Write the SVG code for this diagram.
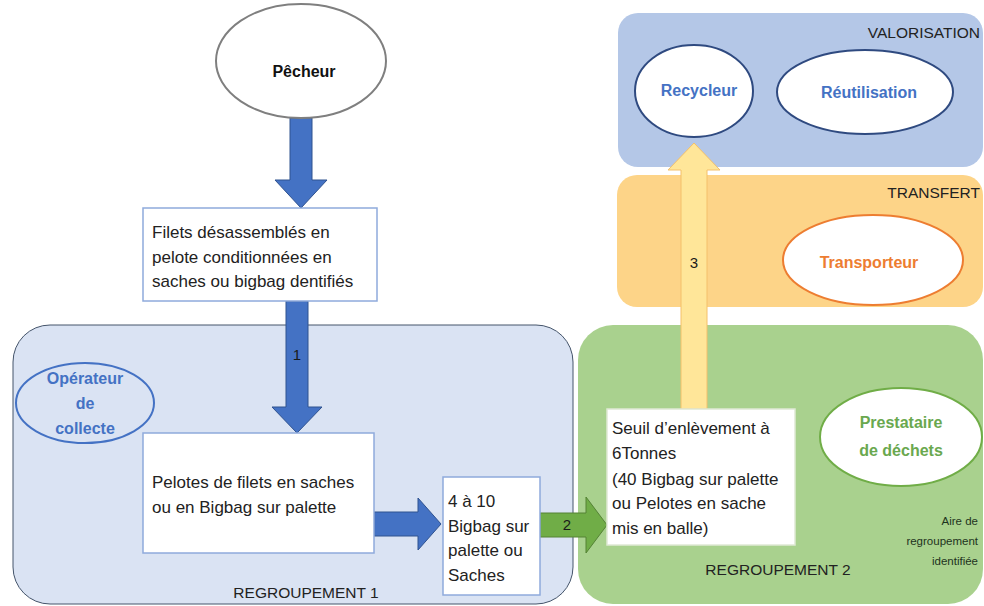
<svg xmlns="http://www.w3.org/2000/svg" width="984" height="606" viewBox="0 0 984 606">
<style>
text{font-family:"Liberation Sans",Arial,sans-serif;fill:#222}
.box{fill:#fff;stroke:#8faadc;stroke-width:1.5}
.bt{font-size:17px}
.rl{font-size:15.5px}
.el{font-size:16px;font-weight:bold;text-anchor:middle}
.blue{fill:#4472c4;stroke:#2f528f;stroke-width:1}
.num{font-size:15px;text-anchor:middle;fill:#1a1a1a}
.aire{font-size:11.5px;text-anchor:end;fill:#1e3320}
</style>
<rect width="984" height="606" fill="#fff"/>
<g id="region-regroupement1">
<rect x="13" y="325" width="560" height="279" rx="37" fill="#dae3f3" stroke="#44546a" stroke-width="1"/>
<text class="rl" x="306" y="598" text-anchor="middle">REGROUPEMENT 1</text>
</g>
<g id="region-regroupement2">
<rect x="578" y="325" width="405" height="279" rx="35" fill="#a9d18e"/>
<text class="rl" x="778" y="575" text-anchor="middle">REGROUPEMENT 2</text>
<text class="aire" x="978" y="525">Aire de</text>
<text class="aire" x="978" y="545">regroupement</text>
<text class="aire" x="978" y="565">identifiée</text>
</g>
<g id="region-valorisation">
<rect x="618" y="13" width="365" height="154" rx="20" fill="#b4c7e7"/>
<text class="rl" x="980" y="38" text-anchor="end">VALORISATION</text>
</g>
<g id="region-transfert">
<rect x="617" y="175" width="366" height="132" rx="20" fill="#fdd488"/>
<text class="rl" x="980" y="198" text-anchor="end">TRANSFERT</text>
</g>
<g id="connectors">
<path class="blue" d="M290,118 H312 V180 H327 L301,208 L275,180 H290 Z"/>
<path class="blue" d="M286,301 H308 V407 H322 L297,433 L272,407 H286 Z"/>
<text class="num" x="297" y="360">1</text>
<path class="blue" d="M374,512 H418 V498 L441,524 L418,550 V536 H374 Z"/>
<path d="M540,513 H586 V497 L607,525 L586,553 V537 H540 Z" fill="#70ad47" stroke="#548235" stroke-width="1"/>
<text class="num" x="567" y="530">2</text>
<path d="M681,409 V170 H668 L694,143 L720,170 H707 V409 Z" fill="#ffe699" stroke="#f4c06a" stroke-width="1"/>
<text class="num" x="694" y="268">3</text>
</g>
<g id="pecheur">
<ellipse cx="301" cy="61" rx="85" ry="57" fill="#fff" stroke="#7f7f7f" stroke-width="2"/>
<text class="el" x="304" y="77" style="fill:#111">Pêcheur</text>
</g>
<g id="filets">
<rect class="box" x="143" y="208" width="234" height="93"/>
<text class="bt" x="152" y="238">Filets désassemblés en</text>
<text class="bt" x="152" y="263">pelote conditionnées en</text>
<text class="bt" x="152" y="287">saches ou bigbag dentifiés</text>
</g>
<g id="operateur">
<ellipse cx="85" cy="403" rx="69" ry="40" fill="none" stroke="#4472c4" stroke-width="2"/>
<text class="el" x="85" y="384" style="fill:#4472c4">Opérateur</text>
<text class="el" x="85" y="409" style="fill:#4472c4">de</text>
<text class="el" x="85" y="434" style="fill:#4472c4">collecte</text>
</g>
<g id="pelotes">
<rect class="box" x="143" y="433" width="231" height="120"/>
<text class="bt" x="152" y="488">Pelotes de filets en saches</text>
<text class="bt" x="152" y="513">ou en Bigbag sur palette</text>
</g>
<g id="bigbag">
<rect class="box" x="443" y="477" width="97" height="118"/>
<text class="bt" x="448" y="507">4 à 10</text>
<text class="bt" x="448" y="532">Bigbag sur</text>
<text class="bt" x="448" y="556">palette ou</text>
<text class="bt" x="448" y="581">Saches</text>
</g>
<g id="seuil">
<rect x="607" y="409" width="188" height="136" fill="#fff" stroke="#dfe9d5" stroke-width="1.5"/>
<text class="bt" x="612" y="434">Seuil d’enlèvement à</text>
<text class="bt" x="612" y="459">6Tonnes</text>
<text class="bt" x="612" y="485">(40 Bigbag sur palette</text>
<text class="bt" x="612" y="509">ou Pelotes en sache</text>
<text class="bt" x="612" y="534">mis en balle)</text>
</g>
<g id="prestataire">
<ellipse cx="901" cy="437" rx="81" ry="49" fill="#fff" stroke="#70ad47" stroke-width="2"/>
<text class="el" x="901" y="428" style="fill:#6aa84f">Prestataire</text>
<text class="el" x="901" y="456" style="fill:#6aa84f">de déchets</text>
</g>
<g id="recycleur">
<ellipse cx="694" cy="91" rx="59" ry="46" fill="#fff" stroke="#2f4a80" stroke-width="2"/>
<text class="el" x="699" y="96" style="fill:#4472c4">Recycleur</text>
</g>
<g id="reutilisation">
<ellipse cx="865" cy="92" rx="88" ry="42" fill="#fff" stroke="#2f4a80" stroke-width="2"/>
<text class="el" x="869" y="98" style="fill:#4472c4">Réutilisation</text>
</g>
<g id="transporteur">
<ellipse cx="873" cy="260" rx="90" ry="45" fill="#fff" stroke="#ed7d31" stroke-width="2"/>
<text class="el" x="869" y="268" style="fill:#ed7d31">Transporteur</text>
</g>
</svg>
